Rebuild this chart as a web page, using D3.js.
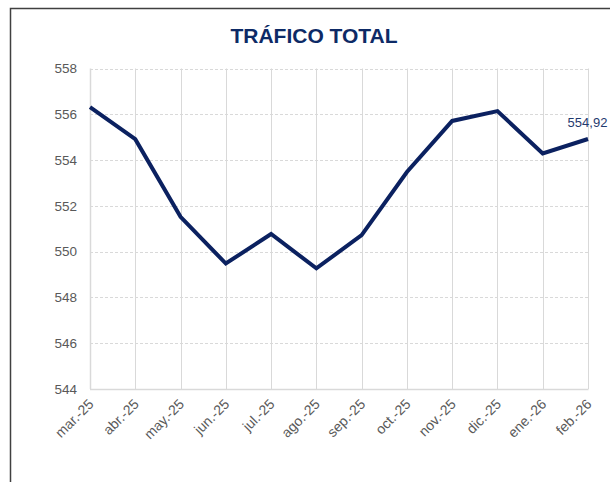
<!DOCTYPE html>
<html>
<head>
<meta charset="utf-8">
<script src="https://cdn.jsdelivr.net/npm/d3@7"></script>
<style>
  html, body { margin: 0; padding: 0; background: #ffffff; }
  svg { display: block; font-family: "Liberation Sans", Arial, sans-serif; }
</style>
</head>
<body>
<svg id="chart" width="610" height="482"></svg>
<script>
// Monthly total traffic series
const months = ["mar.-25", "abr.-25", "may.-25", "jun.-25", "jul.-25", "ago.-25",
                "sep.-25", "oct.-25", "nov.-25", "dic.-25", "ene.-26", "feb.-26"];
const traffic = [556.31, 554.91, 551.52, 549.48, 550.77, 549.27,
                 550.72, 553.48, 555.71, 556.14, 554.29, 554.92];
const yTicks = [544, 546, 548, 550, 552, 554, 556, 558];
const chartTitle = "TRÁFICO TOTAL";
const lastLabel = "554,92";

const svg = d3.select("#chart");
const navy = "#0b2160";
const gridColor = "#d9d9d9";
const textColor = "#595959";

// Outer frame
svg.append("rect")
  .attr("x", 10.5).attr("y", 8.5)
  .attr("width", 640).attr("height", 520)
  .attr("fill", "none")
  .attr("stroke", "#404040")
  .attr("stroke-width", 1.5);

// Title
svg.append("text")
  .attr("x", 314).attr("y", 42.5)
  .attr("text-anchor", "middle")
  .attr("font-size", 21)
  .attr("font-weight", "bold")
  .attr("fill", "#0d2a66")
  .text(chartTitle);

const x = d3.scalePoint().domain(months).range([90, 588]);
const y = d3.scaleLinear().domain([544, 558]).range([389, 68.5]);

// Horizontal dashed gridlines
svg.append("g").selectAll("line")
  .data(yTicks.slice(1))
  .join("line")
  .attr("x1", 90).attr("x2", 588)
  .attr("y1", d => Math.round(y(d)) + 0.5)
  .attr("y2", d => Math.round(y(d)) + 0.5)
  .attr("stroke", gridColor)
  .attr("stroke-width", 1)
  .attr("stroke-dasharray", "3,2");

// Vertical gridlines at each month
svg.append("g").selectAll("line")
  .data(months)
  .join("line")
  .attr("x1", d => Math.round(x(d)) + 0.5)
  .attr("x2", d => Math.round(x(d)) + 0.5)
  .attr("y1", y(558)).attr("y2", y(544))
  .attr("stroke", gridColor)
  .attr("stroke-width", d => d === months[0] ? 1.5 : 1);

// Bottom axis line
svg.append("line")
  .attr("x1", 90).attr("x2", 588.5)
  .attr("y1", Math.round(y(544)) + 0.5).attr("y2", Math.round(y(544)) + 0.5)
  .attr("stroke", gridColor)
  .attr("stroke-width", 1.5);

// Y axis labels
const yAxis = d3.axisLeft(y).tickValues(yTicks).tickSize(0).tickPadding(13)
  .tickFormat(d3.format("d"));
const yg = svg.append("g").attr("transform", "translate(90,0)").call(yAxis);
yg.select(".domain").remove();
yg.selectAll("text")
  .attr("font-size", 13.5)
  .attr("font-family", "'Liberation Sans', Arial, sans-serif")
  .attr("fill", textColor);

// X axis labels, rotated
const xAxis = d3.axisBottom(x).tickSize(0).tickPadding(0);
const xg = svg.append("g").attr("transform", `translate(0,${y(544)})`).call(xAxis);
xg.select(".domain").remove();
xg.selectAll("text")
  .attr("font-size", 14)
  .attr("font-family", "'Liberation Sans', Arial, sans-serif")
  .attr("fill", textColor)
  .attr("text-anchor", "end")
  .attr("dy", "0")
  .attr("transform", "translate(4,16) rotate(-45)");

// Series line
const line = d3.line()
  .x((d, i) => x(months[i]))
  .y(d => y(d));

svg.append("path")
  .datum(traffic)
  .attr("d", line)
  .attr("fill", "none")
  .attr("stroke", navy)
  .attr("stroke-width", 4)
  .attr("stroke-linejoin", "miter");

// Label for the last value
const lastIdx = traffic.length - 1;
svg.append("text")
  .attr("x", x(months[lastIdx]) - 0.5)
  .attr("y", y(traffic[lastIdx]) - 12)
  .attr("text-anchor", "middle")
  .attr("font-size", 13)
  .attr("fill", "#1f3a6e")
  .text(lastLabel);
</script>
</body>
</html>
